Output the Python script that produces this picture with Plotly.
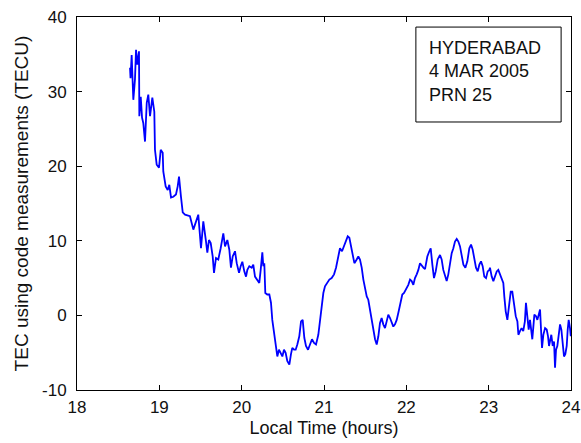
import plotly.graph_objects as go

# Local time (hours) and TEC (TECU)
local_time = [
    18.644, 18.650, 18.664, 18.684, 18.704, 18.717, 18.732, 18.753, 18.757, 18.774,
    18.790, 18.805, 18.826, 18.847, 18.866, 18.887, 18.915, 18.939, 18.947, 18.968,
    18.996, 19.017, 19.041, 19.048, 19.077, 19.102, 19.121, 19.142, 19.170, 19.202,
    19.223, 19.239, 19.263, 19.284, 19.312, 19.372, 19.413, 19.445, 19.473, 19.506,
    19.534, 19.567, 19.583, 19.603, 19.624, 19.648, 19.664, 19.688, 19.716, 19.745,
    19.770, 19.777, 19.798, 19.826, 19.850, 19.870, 19.891, 19.919, 19.940, 19.968,
    19.988, 20.008, 20.032, 20.053, 20.069, 20.093, 20.122, 20.141, 20.162, 20.190,
    20.214, 20.231, 20.251, 20.263, 20.275, 20.287, 20.311, 20.336, 20.356, 20.372,
    20.393, 20.413, 20.433, 20.453, 20.474, 20.494, 20.514, 20.534, 20.554, 20.579,
    20.599, 20.615, 20.636, 20.656, 20.676, 20.700, 20.721, 20.741, 20.761, 20.781,
    20.806, 20.830, 20.854, 20.879, 20.903, 20.931, 20.952, 20.972, 20.992, 21.012,
    21.040, 21.065, 21.093, 21.122, 21.146, 21.174, 21.194, 21.219, 21.243, 21.267,
    21.288, 21.308, 21.328, 21.348, 21.369, 21.397, 21.417, 21.437, 21.458, 21.478,
    21.498, 21.519, 21.538, 21.559, 21.579, 21.599, 21.620, 21.640, 21.660, 21.680,
    21.700, 21.720, 21.741, 21.761, 21.781, 21.802, 21.822, 21.842, 21.862, 21.883,
    21.903, 21.932, 21.951, 21.972, 21.996, 22.024, 22.045, 22.065, 22.085, 22.105,
    22.126, 22.146, 22.166, 22.187, 22.207, 22.227, 22.255, 22.279, 22.296, 22.316,
    22.336, 22.357, 22.381, 22.409, 22.429, 22.449, 22.470, 22.490, 22.510, 22.530,
    22.551, 22.571, 22.591, 22.612, 22.632, 22.652, 22.673, 22.693, 22.717, 22.741,
    22.765, 22.786, 22.806, 22.826, 22.846, 22.867, 22.887, 22.907, 22.927, 22.947,
    22.968, 22.988, 23.008, 23.016, 23.037, 23.057, 23.077, 23.098, 23.117, 23.138,
    23.159, 23.178, 23.190, 23.207, 23.227, 23.247, 23.268, 23.287, 23.308, 23.329,
    23.349, 23.361, 23.380, 23.400, 23.420, 23.440, 23.453, 23.469, 23.486, 23.502,
    23.514, 23.530, 23.543, 23.555, 23.575, 23.591, 23.608, 23.624, 23.636, 23.648,
    23.664, 23.685, 23.705, 23.721, 23.733, 23.745, 23.761, 23.778, 23.794, 23.806,
    23.818, 23.834, 23.851, 23.867, 23.883, 23.900, 23.915, 23.931, 23.948, 23.960,
    23.972, 23.988, 23.997,
]
tec = [
    33.2, 31.8, 34.9, 28.9, 31.6, 35.6, 33.6, 35.4, 26.7, 29.3,
    26.5, 25.8, 23.3, 28.5, 29.6, 26.7, 29.2, 27.3, 22.2, 20.2,
    19.8, 22.2, 21.8, 19.3, 17.3, 16.8, 17.5, 15.8, 15.9, 16.2,
    17.3, 18.6, 15.9, 13.8, 13.5, 13.3, 11.5, 12.6, 13.5, 9.0,
    12.6, 9.9, 8.4, 10.1, 9.7, 7.9, 5.7, 7.7, 7.5, 9.0,
    10.6, 11.0, 9.25, 10.1, 8.8, 6.4, 7.9, 8.6, 7.0, 5.7,
    6.6, 7.2, 5.9, 5.2, 6.1, 6.6, 6.4, 6.8, 5.2, 4.8,
    4.35, 6.1, 8.45, 6.6, 7.0, 3.0, 2.8, 2.8, 1.7, -0.6,
    -2.3, -3.9, -5.5, -4.6, -5.2, -5.5, -4.6, -5.0, -6.1, -6.6,
    -5.2, -4.35, -4.6, -4.6, -3.9, -2.8, -0.8, -0.6, -3.0, -4.1,
    -4.6, -3.9, -3.2, -3.7, -3.9, -2.6, -0.8, 1.2, 3.0, 3.9,
    4.35, 4.8, 5.0, 5.5, 6.4, 7.7, 9.0, 8.6, 9.25, 9.9,
    10.6, 10.4, 9.25, 8.1, 7.0, 7.5, 7.9, 7.5, 6.4, 4.8,
    3.5, 2.55, 2.1, 0.8, -1.0, -2.1, -3.2, -3.9, -2.8, -1.0,
    -0.35, -1.2, -1.7, -0.8, 0.1, -0.35, -1.0, -1.5, -1.2, -0.6,
    0.35, 1.7, 2.8, 3.0, 3.5, 4.1, 4.8, 4.6, 4.1, 5.0,
    5.5, 6.1, 7.0, 6.6, 6.4, 6.2, 7.9, 8.6, 9.0, 6.8,
    5.0, 5.9, 7.5, 8.1, 7.5, 6.1, 5.2, 4.6, 5.5, 7.0,
    8.35, 9.0, 9.9, 10.25, 9.9, 9.25, 7.9, 6.8, 6.4, 7.25,
    9.0, 9.5, 8.8, 7.7, 6.4, 5.9, 6.8, 7.25, 6.6, 5.2,
    5.0, 5.9, 6.1, 6.4, 5.2, 4.6, 5.2, 5.9, 6.1, 5.5,
    4.8, 4.35, 2.55, 0.55, -0.6, 1.2, 3.2, 3.2, 1.45, -0.1,
    -0.8, -2.6, -2.1, -1.7, -2.1, -0.8, 1.7, -0.1, -1.9, -0.6,
    -1.7, -3.2, -1.5, 0.1, -0.1, -0.6, 0.1, 0.8, -1.9, -4.35,
    -2.6, -1.7, -1.9, -2.8, -4.1, -3.2, -2.6, -4.1, -3.5, -7.0,
    -4.6, -4.1, -2.3, -1.2, -1.9, -3.7, -5.5, -5.2, -4.1, -1.9,
    -0.6, -1.7, -2.8,
]

x_ticks = [18, 19, 20, 21, 22, 23, 24]
x_tick_labels = ["18", "19", "20", "21", "22", "23", "24"]
y_ticks = [-10, 0, 10, 20, 30, 40]
y_tick_labels = ["-10", "0", "10", "20", "30", "40"]
info_lines = ["HYDERABAD", "4 MAR 2005", "PRN 25"]

FONT = "Liberation Sans, Arial, sans-serif"

fig = go.Figure()
fig.add_trace(go.Scatter(
    x=local_time, y=tec, mode="lines",
    line=dict(color="#0000FF", width=1.8),
    showlegend=False, hoverinfo="skip",
))

axis_common = dict(
    showgrid=False, zeroline=False, showline=True, linecolor="black",
    linewidth=1, mirror="ticks", ticks="inside", ticklen=5,
    tickcolor="black", tickwidth=1, automargin=False,
    tickfont=dict(family=FONT, size=17, color="#111111"),
)

fig.update_xaxes(
    range=[18, 24], tickvals=x_ticks, ticktext=x_tick_labels,
    ticklabelstandoff=2,
    title=dict(text="Local Time (hours)", font=dict(family=FONT, size=18, color="#111111"), standoff=4),
    **axis_common,
)
fig.update_yaxes(
    range=[-10, 40], tickvals=y_ticks, ticktext=y_tick_labels,
    ticklabelstandoff=6,
    title=dict(text="TEC using code measurements (TECU)", font=dict(family=FONT, size=19, color="#111111"), standoff=8),
    **axis_common,
)

# Info box (MATLAB text box)
fig.add_shape(
    type="rect", xref="paper", yref="paper",
    x0=0.686, x1=0.980, y0=0.7185, y1=0.973,
    line=dict(color="black", width=1), fillcolor="white", layer="above",
)
fig.add_annotation(
    xref="paper", yref="paper", x=0.7085, y=0.855,
    xanchor="left", yanchor="middle", align="left", showarrow=False,
    text="<br>".join(info_lines),
    font=dict(family=FONT, size=18, color="#111111"),
)

fig.update_layout(
    width=581, height=443,
    margin=dict(l=77, r=10, t=17, b=53),
    paper_bgcolor="white", plot_bgcolor="white",
)

fig.write_html(
    "out.html",
    config={"displayModeBar": False, "staticPlot": True},
    post_script="document.body.style.margin='0';document.body.style.overflow='hidden';",
)
